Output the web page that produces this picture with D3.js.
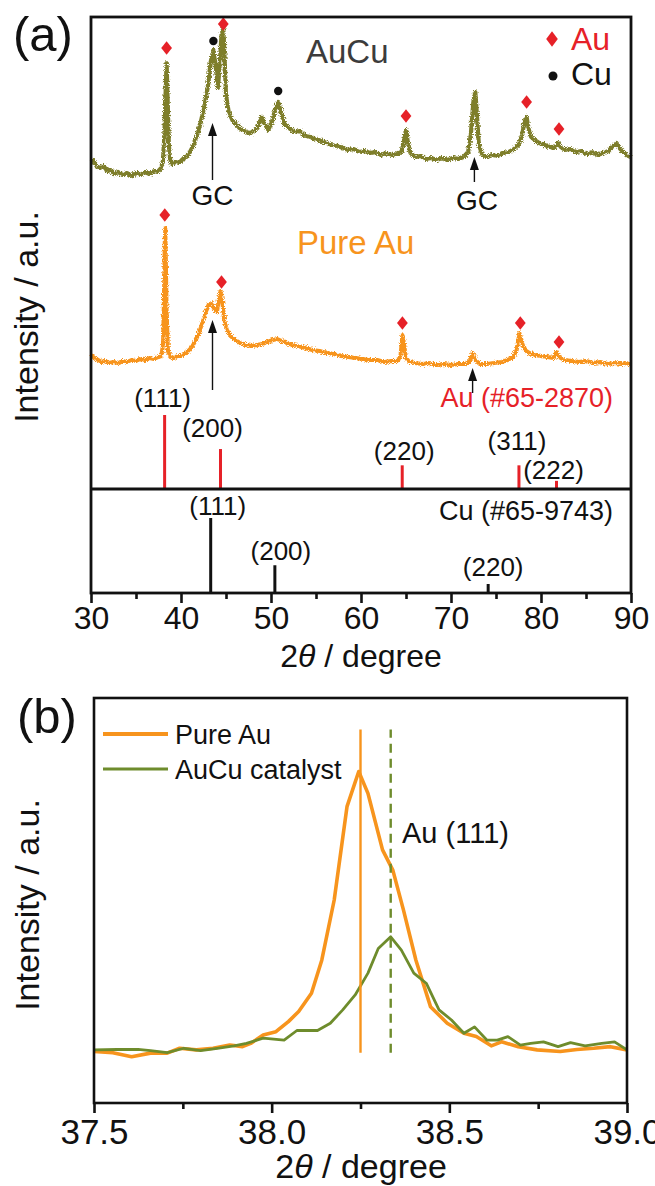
<!DOCTYPE html>
<html><head><meta charset="utf-8">
<script src="https://cdn.jsdelivr.net/npm/d3@7"></script>
<style>
html,body{margin:0;padding:0;background:#fff;}
svg{display:block;font-family:"Liberation Sans",Arial,Helvetica,sans-serif;}
</style></head><body>
<svg id="fig" width="655" height="1186"></svg>
<script>
// ---------- panel (a): XRD patterns, 2θ in degrees, stacked intensity (a.u.) ----------
const twoThetaAuCu = [30.0,30.3,30.6,31.0,31.4,31.8,32.2,32.6,33.0,33.5,34.0,34.5,35.0,35.5,36.0,36.5,37.0,37.4,37.8,38.0,38.15,38.3,38.4,38.5,38.65,38.8,39.0,39.4,39.8,40.2,40.6,41.0,41.4,41.8,42.2,42.6,43.0,43.3,43.6,43.9,44.1,44.3,44.5,44.7,44.85,45.0,45.3,45.7,46.1,46.5,47.0,47.5,48.0,48.5,48.8,49.0,49.3,49.7,50.1,50.5,50.8,51.1,51.5,52.0,52.6,53.2,53.8,54.4,55.0,55.6,56.2,56.8,57.4,58.0,58.6,59.2,59.8,60.4,61.0,61.6,62.2,62.8,63.4,64.0,64.5,64.8,65.0,65.2,65.5,66.0,66.6,67.2,67.8,68.4,69.0,69.6,70.2,70.8,71.4,71.9,72.2,72.5,72.7,72.9,73.1,73.5,74.0,74.6,75.2,75.8,76.4,77.0,77.5,77.9,78.2,78.4,78.6,78.9,79.3,79.8,80.4,81.0,81.5,81.9,82.2,82.7,83.3,83.9,84.5,85.1,85.7,86.3,86.9,87.5,88.0,88.4,88.8,89.3,89.7,90.0];
const intensityAuCu = [2155,2165,2135,2125,2135,2110,2115,2095,2105,2090,2100,2085,2100,2090,2105,2095,2110,2105,2125,2165,2290,2515,2650,2490,2240,2165,2145,2155,2150,2170,2180,2205,2240,2290,2355,2435,2535,2655,2715,2615,2525,2640,2790,2825,2665,2490,2405,2365,2345,2325,2310,2300,2305,2325,2360,2380,2345,2315,2355,2425,2455,2405,2345,2325,2305,2310,2285,2280,2270,2260,2250,2240,2235,2225,2215,2220,2205,2210,2200,2205,2190,2200,2190,2195,2205,2265,2315,2255,2200,2180,2185,2170,2175,2165,2175,2165,2175,2170,2180,2205,2290,2465,2505,2375,2240,2190,2180,2190,2185,2200,2205,2220,2240,2290,2365,2380,2325,2280,2265,2250,2240,2230,2225,2250,2230,2215,2220,2205,2210,2195,2205,2190,2200,2210,2235,2250,2220,2200,2185,2180];

const twoThetaPureAu = [30.0,30.4,30.8,31.2,31.6,32.0,32.5,33.0,33.5,34.0,34.5,35.0,35.5,36.0,36.5,37.0,37.5,37.8,38.0,38.1,38.2,38.25,38.3,38.4,38.55,38.8,39.2,39.6,40.0,40.4,40.8,41.2,41.6,42.0,42.4,42.8,43.1,43.4,43.7,44.0,44.2,44.4,44.6,44.8,45.1,45.5,46.0,46.6,47.2,47.8,48.4,49.0,49.6,50.2,50.7,51.2,51.8,52.4,53.0,53.8,54.6,55.4,56.2,57.0,57.8,58.6,59.4,60.2,61.0,61.8,62.6,63.4,64.1,64.4,64.6,64.8,65.0,65.4,66.0,66.8,67.6,68.4,69.2,70.0,70.8,71.6,72.1,72.4,72.7,73.2,74.0,74.8,75.6,76.3,76.9,77.3,77.6,77.9,78.2,78.7,79.3,80.0,80.7,81.4,81.7,82.0,82.6,83.4,84.2,85.0,85.8,86.6,87.4,88.2,89.0,89.5,90.0];
const intensityPureAu = [1190,1175,1165,1155,1160,1150,1155,1150,1160,1155,1165,1160,1170,1165,1175,1170,1180,1185,1240,1465,1765,1825,1715,1415,1215,1180,1175,1185,1185,1195,1210,1230,1260,1300,1355,1410,1440,1450,1420,1405,1465,1510,1450,1365,1315,1285,1265,1250,1240,1235,1240,1245,1255,1265,1270,1260,1250,1240,1235,1225,1215,1210,1200,1195,1185,1180,1175,1170,1165,1165,1155,1160,1160,1190,1290,1240,1175,1155,1150,1145,1150,1140,1145,1140,1145,1145,1160,1200,1165,1145,1145,1150,1155,1165,1180,1215,1300,1255,1215,1200,1190,1185,1180,1175,1205,1180,1165,1160,1155,1160,1150,1155,1145,1150,1145,1150,1140];

// phase markers above the diffraction peaks
const auMarkAuCuPos = [38.4, 44.7, 65.0, 78.4, 82.0];
const auMarkAuCuLevel = [2725, 2845, 2385, 2455, 2320];
const cuMarkAuCuPos = [43.6, 50.8];
const cuMarkAuCuLevel = [2760, 2510];
const auMarkPurePos = [38.2, 44.5, 64.6, 77.7, 82.0];
const auMarkPureLevel = [1890, 1555, 1350, 1350, 1255];

// glassy-carbon (GC) substrate peaks: position, arrow tip level, arrow tail level
const gcArrowPos = [43.5, 72.6, 43.5, 72.4];
const gcArrowTip = [2350, 2180, 1365, 1125];
const gcArrowTail = [2065, 2055, 1015, 1000];

// standard reference patterns (relative intensity)
const auRefPos = [38.18, 44.39, 64.58, 77.55, 81.72];
const auRefHkl = ["(111)", "(200)", "(220)", "(311)", "(222)"];
const auRefRel = [100, 54, 32, 32, 11];
const cuRefPos = [43.30, 50.43, 74.13];
const cuRefHkl = ["(111)", "(200)", "(220)"];
const cuRefRel = [100, 37, 12];

const xTicksA = [30, 40, 50, 60, 70, 80, 90];

// ---------- panel (b): Au (111) region ----------
const twoThetaB_Au = [37.500,37.553,37.606,37.659,37.706,37.741,37.788,37.835,37.882,37.918,37.941,37.976,38.012,38.047,38.076,38.112,38.141,38.176,38.212,38.245,38.271,38.312,38.341,38.371,38.406,38.447,38.494,38.541,38.576,38.618,38.647,38.694,38.747,38.812,38.859,38.906,38.953,39.000];
const intensityB_Au = [12.5,12.2,11.2,12.1,12.1,13.3,12.9,13.3,14.1,13.7,14.5,16.6,17.4,19.9,22.4,26.9,35.1,50.0,73.1,81.8,76.4,62.4,57.4,47.5,35.1,23.6,19.5,17.0,16.2,13.9,14.9,13.7,12.9,12.5,13.0,13.3,13.7,12.9];
const twoThetaB_AuCu = [37.500,37.565,37.624,37.659,37.706,37.753,37.800,37.847,37.894,37.929,37.976,38.035,38.071,38.129,38.165,38.200,38.235,38.271,38.300,38.335,38.365,38.400,38.435,38.471,38.506,38.541,38.571,38.606,38.635,38.665,38.700,38.729,38.765,38.806,38.841,38.882,38.929,38.965,39.000];
const intensityB_AuCu = [12.9,13.0,13.0,12.7,12.2,13.3,12.7,13.3,13.9,14.5,15.8,15.3,17.7,17.7,19.5,22.8,26.5,31.9,38.0,40.9,37.6,31.9,29.4,22.8,20.3,17.0,18.6,15.3,15.3,16.2,14.1,14.5,14.9,13.7,14.7,13.9,14.5,14.9,12.9];
const peakB = [38.25, 38.335];
const peakBSpan = [12.2, 92.2];
const xTicksB = [37.5, 38.0, 38.5, 39.0];
const xMinorB = [37.75, 38.25, 38.75];

// ---------- styling ----------
const OLIVE = "#7e7e2c", ORANGE = "#f7941d", GREEN = "#6e8c2c", RED = "#e62128", INK = "#111";

const svg = d3.select("#fig");
const defs = svg.append("defs");
// rough edge for the raw, noisy diffractograms
const rough = defs.append("filter").attr("id", "rough")
  .attr("x", "-2%").attr("y", "-10%").attr("width", "104%").attr("height", "120%");
rough.append("feTurbulence").attr("type", "fractalNoise").attr("baseFrequency", "0.9")
  .attr("numOctaves", 2).attr("seed", 4).attr("result", "n");
rough.append("feDisplacementMap").attr("in", "SourceGraphic").attr("in2", "n")
  .attr("scale", 5).attr("xChannelSelector", "R").attr("yChannelSelector", "G");

// ======================= panel (a) =======================
const A = {left: 91, right: 631, top: 17, bottom: 593};
const xA = d3.scaleLinear().domain([30, 90]).range([A.left, A.right]);
const yA = d3.scaleLinear().domain([0, 2880]).range([A.bottom, A.top]);
const dividerLevel = 520;
const yAuRef = d3.scaleLinear().domain([0, 100]).range([yA(dividerLevel), yA(dividerLevel) - 74]);
const yCuRef = d3.scaleLinear().domain([0, 100]).range([A.bottom, A.bottom - 75]);

const gA = svg.append("g");
const lineA = d3.line().x(d => xA(d[0])).y(d => yA(d[1]));

gA.append("path").datum(d3.zip(twoThetaAuCu, intensityAuCu))
  .attr("d", lineA).attr("fill", "none").attr("stroke", OLIVE)
  .attr("stroke-width", 4.2).attr("stroke-linejoin", "round").attr("filter", "url(#rough)");
gA.append("path").datum(d3.zip(twoThetaPureAu, intensityPureAu))
  .attr("d", lineA).attr("fill", "none").attr("stroke", ORANGE)
  .attr("stroke-width", 4).attr("stroke-linejoin", "round").attr("filter", "url(#rough)");

// reference sticks
gA.selectAll(".auref").data(d3.zip(auRefPos, auRefRel)).join("line")
  .attr("x1", d => xA(d[0])).attr("x2", d => xA(d[0]))
  .attr("y1", yAuRef(0)).attr("y2", d => yAuRef(d[1]))
  .attr("stroke", RED).attr("stroke-width", 3);
gA.selectAll(".curef").data(d3.zip(cuRefPos, cuRefRel)).join("line")
  .attr("x1", d => xA(d[0])).attr("x2", d => xA(d[0]))
  .attr("y1", yCuRef(0)).attr("y2", d => yCuRef(d[1]))
  .attr("stroke", INK).attr("stroke-width", 3);
gA.append("line").attr("x1", A.left).attr("x2", A.right)
  .attr("y1", yA(dividerLevel)).attr("y2", yA(dividerLevel))
  .attr("stroke", INK).attr("stroke-width", 2.8);

// hkl labels of the reference patterns (offsets from each stick)
const auLabelOff = [[-2, -82], [-8, -52], [2, -29], [-2, -39], [-3, -10]];
gA.selectAll(".auhkl").data(auRefHkl).join("text")
  .attr("x", (d, i) => xA(auRefPos[i]) + auLabelOff[i][0])
  .attr("y", (d, i) => yAuRef(0) + auLabelOff[i][1])
  .attr("text-anchor", "middle").attr("font-size", 26).attr("fill", INK).text(d => d);
const cuLabelOff = [[7, 26], [6, -5], [5, -8]];
gA.selectAll(".cuhkl").data(cuRefHkl).join("text")
  .attr("x", (d, i) => xA(cuRefPos[i]) + cuLabelOff[i][0])
  .attr("y", (d, i) => i === 0 ? yAuRef(0) + cuLabelOff[i][1] : yCuRef(cuRefRel[i]) + cuLabelOff[i][1])
  .attr("text-anchor", "middle").attr("font-size", 26).attr("fill", INK).text(d => d);

gA.append("text").attr("x", 613).attr("y", 407).attr("text-anchor", "end")
  .attr("font-size", 27).attr("fill", RED).text("Au (#65-2870)");
gA.append("text").attr("x", 613).attr("y", 520).attr("text-anchor", "end")
  .attr("font-size", 27).attr("fill", INK).text("Cu (#65-9743)");

// phase markers
const diamond = d3.symbol().type(d3.symbolDiamond).size(70);
function diamonds(pos, lvl) {
  gA.selectAll(null).data(d3.zip(pos, lvl)).join("path")
    .attr("d", diamond).attr("transform", d => `translate(${xA(d[0])},${yA(d[1])}) scale(1.2,0.88)`)
    .attr("fill", RED);
}
diamonds(auMarkAuCuPos, auMarkAuCuLevel);
diamonds(auMarkPurePos, auMarkPureLevel);
gA.selectAll(null).data(d3.zip(cuMarkAuCuPos, cuMarkAuCuLevel)).join("circle")
  .attr("cx", d => xA(d[0])).attr("cy", d => yA(d[1])).attr("r", 4.2).attr("fill", INK);

// GC arrows
gA.selectAll(null).data(d3.zip(gcArrowPos, gcArrowTip, gcArrowTail)).join("g")
  .each(function (d) {
    const g = d3.select(this), x = xA(d[0]), yt = yA(d[1]), yb = yA(d[2]);
    g.append("line").attr("x1", x).attr("x2", x).attr("y1", yt + 10).attr("y2", yb)
      .attr("stroke", INK).attr("stroke-width", 1.4);
    g.append("path").attr("d", `M${x},${yt} L${x - 4.5},${yt + 13} L${x + 4.5},${yt + 13} Z`).attr("fill", INK);
  });
[[43.5, 205], [72.9, 210]].forEach(p => {
  gA.append("text").attr("x", xA(p[0])).attr("y", p[1]).attr("text-anchor", "middle")
    .attr("font-size", 28).attr("fill", INK).text("GC");
});

// sample names and legend
gA.append("text").attr("x", 306).attr("y", 63).attr("font-size", 33).attr("fill", "#3c3c3c").text("AuCu");
gA.append("text").attr("x", 297).attr("y", 254).attr("font-size", 33).attr("fill", ORANGE).text("Pure Au");
gA.append("path").attr("d", diamond).attr("transform", "translate(552,39) scale(1.3,1.0)").attr("fill", RED);
gA.append("text").attr("x", 571).attr("y", 50).attr("font-size", 32).attr("fill", RED).text("Au");
gA.append("circle").attr("cx", 553).attr("cy", 76).attr("r", 4.5).attr("fill", INK);
gA.append("text").attr("x", 571).attr("y", 85).attr("font-size", 32).attr("fill", INK).text("Cu");

// frame and axis
gA.append("rect").attr("x", A.left).attr("y", A.top).attr("width", A.right - A.left)
  .attr("height", A.bottom - A.top).attr("fill", "none").attr("stroke", INK).attr("stroke-width", 2.8);
const axA = gA.append("g").attr("transform", `translate(0,${A.bottom})`)
  .call(d3.axisBottom(xA).tickValues(xTicksA).tickSize(10).tickPadding(3).tickFormat(d3.format("d")));
gA.append("g").attr("transform", `translate(0,${A.bottom})`)
  .call(d3.axisBottom(xA).tickValues(d3.range(35, 90, 10)).tickSize(6).tickFormat(""))
  .call(g => g.select(".domain").remove());
svg.selectAll(".tick line").attr("stroke", INK).attr("stroke-width", 2.6);
axA.select(".domain").remove();
axA.selectAll("text").attr("font-size", 32).attr("fill", INK).attr("font-family", null);

const titleA = gA.append("text").attr("x", 361).attr("y", 667).attr("text-anchor", "middle")
  .attr("font-size", 32).attr("fill", INK);
titleA.append("tspan").text("2");
titleA.append("tspan").attr("font-style", "italic").text("θ");
titleA.append("tspan").text(" / degree");
gA.append("text").attr("transform", "translate(38,317) rotate(-90)").attr("text-anchor", "middle")
  .attr("font-size", 34).attr("fill", INK).text("Intensity / a.u.");
gA.append("text").attr("x", 13).attr("y", 51).attr("font-size", 49).attr("fill", INK).text("(a)");

// ======================= panel (b) =======================
const B = {left: 94, right: 627, top: 698, bottom: 1103};
const xB = d3.scaleLinear().domain([37.5, 39.0]).range([B.left, B.right]);
const yB = d3.scaleLinear().domain([0, 100]).range([1102, 698]);
const gB = svg.append("g");
const lineB = d3.line().x(d => xB(d[0])).y(d => yB(d[1]));

gB.append("path").datum(d3.zip(twoThetaB_Au, intensityB_Au)).attr("d", lineB)
  .attr("fill", "none").attr("stroke", ORANGE).attr("stroke-width", 3.6).attr("stroke-linejoin", "round");
gB.append("path").datum(d3.zip(twoThetaB_AuCu, intensityB_AuCu)).attr("d", lineB)
  .attr("fill", "none").attr("stroke", GREEN).attr("stroke-width", 2.8).attr("stroke-linejoin", "round");
gB.append("line").attr("x1", xB(peakB[0])).attr("x2", xB(peakB[0]))
  .attr("y1", yB(peakBSpan[0])).attr("y2", yB(peakBSpan[1]))
  .attr("stroke", ORANGE).attr("stroke-width", 2.4);
gB.append("line").attr("x1", xB(peakB[1])).attr("x2", xB(peakB[1]))
  .attr("y1", yB(peakBSpan[0])).attr("y2", yB(peakBSpan[1]))
  .attr("stroke", GREEN).attr("stroke-width", 2.4).attr("stroke-dasharray", "9,6");
gB.append("text").attr("x", 402).attr("y", 843).attr("font-size", 29).attr("fill", INK).text("Au (111)");

// legend
gB.append("line").attr("x1", 103).attr("x2", 168).attr("y1", 734).attr("y2", 734)
  .attr("stroke", ORANGE).attr("stroke-width", 4);
gB.append("text").attr("x", 175).attr("y", 744).attr("font-size", 27).attr("fill", INK).text("Pure Au");
gB.append("line").attr("x1", 103).attr("x2", 168).attr("y1", 769).attr("y2", 769)
  .attr("stroke", GREEN).attr("stroke-width", 3);
gB.append("text").attr("x", 175).attr("y", 779).attr("font-size", 27).attr("fill", INK).text("AuCu catalyst");

gB.append("rect").attr("x", B.left).attr("y", B.top).attr("width", B.right - B.left)
  .attr("height", B.bottom - B.top).attr("fill", "none").attr("stroke", INK).attr("stroke-width", 2.6);
const axB = gB.append("g").attr("transform", `translate(0,${B.bottom})`)
  .call(d3.axisBottom(xB).tickValues(xTicksB).tickSize(10).tickPadding(6).tickFormat(d3.format(".1f")));
gB.append("g").attr("transform", `translate(0,${B.bottom})`)
  .call(d3.axisBottom(xB).tickValues(xMinorB).tickSize(6).tickFormat(""))
  .call(g => g.select(".domain").remove());
axB.select(".domain").remove();
gB.selectAll(".tick line").attr("stroke", INK).attr("stroke-width", 2.6);
axB.selectAll("text").attr("font-size", 35).attr("fill", INK).attr("font-family", null);

const titleB = gB.append("text").attr("x", 361).attr("y", 1178).attr("text-anchor", "middle")
  .attr("font-size", 34).attr("fill", INK);
titleB.append("tspan").text("2");
titleB.append("tspan").attr("font-style", "italic").text("θ");
titleB.append("tspan").text(" / degree");
gB.append("text").attr("transform", "translate(39,905) rotate(-90)").attr("text-anchor", "middle")
  .attr("font-size", 34).attr("fill", INK).text("Intensity / a.u.");
gB.append("text").attr("x", 17).attr("y", 733).attr("font-size", 49).attr("fill", INK).text("(b)");
</script>
</body></html>
